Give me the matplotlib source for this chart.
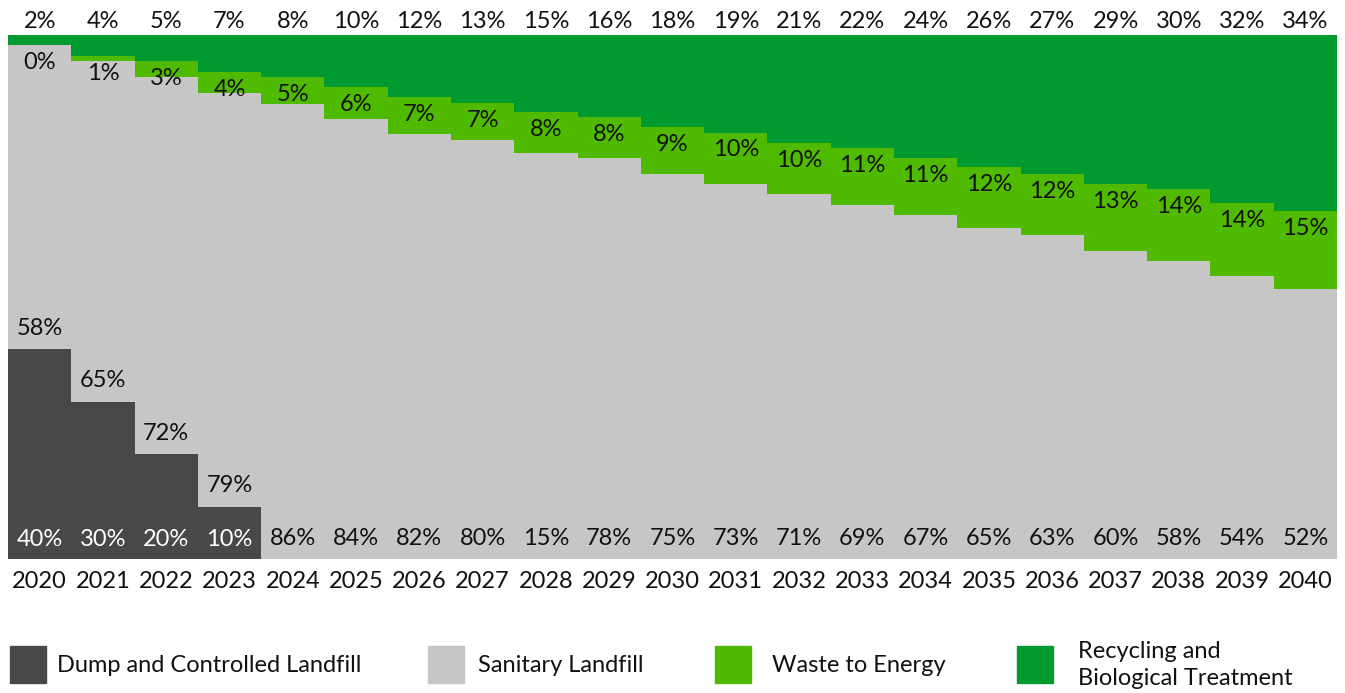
import matplotlib.pyplot as plt
import matplotlib.patches as mpatches
import numpy as np

plt.rcParams['font.family'] = ['Lato', 'DejaVu Sans']

years = list(range(2020, 2041))
dump = [40, 30, 20, 10, 0, 0, 0, 0, 0, 0, 0, 0, 0, 0, 0, 0, 0, 0, 0, 0, 0]
sanitary = [58, 65, 72, 79, 86, 84, 82, 80, 79, 78, 75, 73, 71, 69, 67, 65, 63, 60, 58, 54, 52]
wte = [0, 1, 3, 4, 5, 6, 7, 7, 8, 8, 9, 10, 10, 11, 11, 12, 12, 13, 14, 14, 15]
recycling = [2, 4, 5, 7, 8, 10, 12, 13, 15, 16, 18, 19, 21, 22, 24, 26, 27, 29, 30, 32, 34]
# label printed on the chart for sanitary landfill (2028 reads "15%" in the source)
sanitary_text = [f"{v}%" for v in sanitary]
sanitary_text[8] = "15%"

series = ['Dump and Controlled Landfill', 'Sanitary Landfill', 'Waste to Energy',
          'Recycling and\nBiological Treatment']
colors = ['#484848', '#c6c6c6', '#4fba00', '#009a30']

data = np.array([dump, sanitary, wte, recycling], dtype=float)
share = data / data.sum(axis=0) * 100  # 100% stacked

fig = plt.figure(figsize=(13.45, 6.93), dpi=100)
ax = fig.add_axes([8 / 1345, 134 / 693, 1329 / 1345, 524 / 693])
x = np.arange(len(years))

bottom = np.zeros(len(years))
for i in range(4):
    ax.bar(x, share[i], bottom=bottom, width=1.0, color=colors[i], linewidth=0)
    bottom += share[i]

ax.set_xlim(-0.5, len(years) - 0.5)
ax.set_ylim(0, 100)
for s in ax.spines.values():
    s.set_visible(False)
ax.set_yticks([])
ax.set_xticks(x)
ax.set_xticklabels([str(y) for y in years], fontsize=17, color='#111111')
ax.tick_params(axis='x', length=0, pad=8.5)

fs = 17
for j in range(len(years)):
    d, s, w, r = share[:, j]
    if dump[j] > 0:
        ax.annotate(f"{dump[j]}%", (j, 0), xytext=(0, 14), textcoords='offset points',
                    ha='center', va='center', fontsize=fs, color='white')
    ax.annotate(sanitary_text[j], (j, d), xytext=(0, 15), textcoords='offset points',
                ha='center', va='center', fontsize=fs, color='#111111')
    ax.annotate(f"{wte[j]}%", (j, d + s + w), xytext=(0, -12.5), textcoords='offset points',
                ha='center', va='center', fontsize=fs, color='#111111')
    ax.annotate(f"{recycling[j]}%", (j, 100), xytext=(0, 9.5), textcoords='offset points',
                ha='center', va='center', fontsize=fs, color='#111111', annotation_clip=False)

# legend drawn in figure pixels
W, H = 1345, 693
sq_x = [10, 428, 715, 1017]
txt_x = [57, 478, 772, 1078]
for i in range(4):
    fig.patches.append(mpatches.Rectangle((sq_x[i] / W, (H - 683) / H), 36 / W, 37 / H,
                                          transform=fig.transFigure, color=colors[i]))
    fig.text(txt_x[i] / W, (H - 665) / H, series[i], fontsize=17, color='#111111',
             ha='left', va='center', linespacing=1.3)

fig.savefig('out.png', dpi=100)
